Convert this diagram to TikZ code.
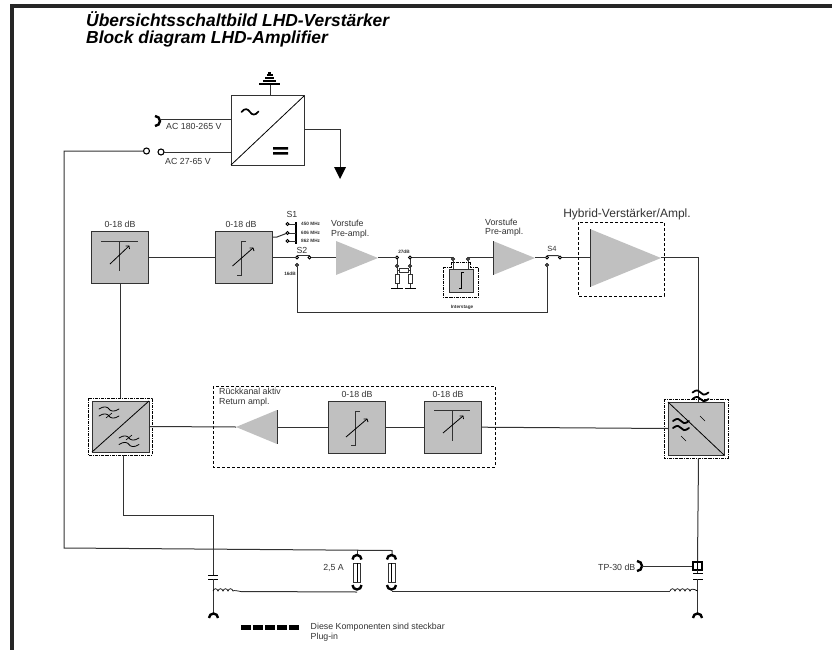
\documentclass[tikz,border=0pt]{standalone}
\usepackage{fontspec}
\setmainfont{Liberation Sans}
\usetikzlibrary{arrows.meta}
\definecolor{blockgrey}{RGB}{192,192,192}
\definecolor{inkc}{RGB}{50,50,50}
\tikzset{
  wire/.style={draw=inkc,line width=1pt},
  thinw/.style={draw=black,line width=0.8pt},
  block/.style={draw=inkc,fill=blockgrey,line width=0.9pt,minimum width=57pt,minimum height=52pt,inner sep=0pt,outer sep=0pt},
  psubox/.style={draw=inkc,fill=white,line width=1pt,minimum width=73pt,minimum height=69pt,inner sep=0pt,outer sep=0pt},
  amp/.style={draw=none,fill=blockgrey},
  lab/.style={inner sep=0pt,text=inkc,font=\fontsize{8.8}{10}\selectfont},
  tinylab/.style={inner sep=0pt,text=inkc,font=\fontsize{4.7}{5}\selectfont\bfseries},
  titlelab/.style={anchor=base west,inner sep=0pt,font=\fontsize{17.4}{19}\selectfont\bfseries\itshape},
  contact/.style={circle,draw=black,fill=white,line width=0.9pt,minimum size=3pt,inner sep=0pt,outer sep=0pt},
  bigcontact/.style={circle,draw=black,fill=white,line width=1.1pt,minimum size=6pt,inner sep=0pt,outer sep=0pt},
  plugbox/.style={draw=black,line width=0.8pt,densely dashdotted},
  retbox/.style={draw=black,line width=0.8pt,densely dashed},
  socket/.style={draw=black,line width=2.4pt},
  fuse/.style={draw=inkc,fill=white,line width=0.7pt,minimum width=7pt,minimum height=19pt,inner sep=0pt},
  res/.style={draw=inkc,fill=white,line width=0.6pt,inner sep=0pt},
  wave/.pic={\draw[line width=\pgfkeysvalueof{/tikz/wavew},line cap=round] (-8,0) .. controls (-4,-3.5) and (-1,-2) .. (0,0) .. controls (1,2) and (4,3.5) .. (8,0);},
  wavew/.initial=0.8pt,
}
\begin{document}
\begin{tikzpicture}[x=1pt,y=-1pt]
\useasboundingbox (0,0) rectangle (832,650);
% frame
\fill[black!85] (10,4.5) rectangle (832,8);
\fill[black!85] (10,4.5) rectangle (14,650);
% title
\node[titlelab] (t1) at (86,27) {Übersichtsschaltbild LHD-Verstärker};
\node[titlelab] (t2) at (86,43.5) {Block diagram LHD-Amplifier};
% PSU
\node[psubox] (psu) at (267.5,130.5) {};
\draw[thinw] (psu.south west) -- (psu.north east);
\draw[line width=1.7pt,line cap=round] (241.5,112) .. controls (245,107.5) and (248,109) .. (250,112) .. controls (252,115) and (255,116) .. (258.5,111.5);
\fill[black] (273,147) rectangle (288,149.5) (273,152) rectangle (288,154.5);
\coordinate (gnd) at (270,85);
\draw[wire] (gnd) -- (270,96);
\fill[black] (259,83) rectangle (280,85.5);
\fill[black] (263,80) rectangle (276,82);
\fill[black] (265,77) rectangle (274,79);
\fill[black] (266.5,74.5) rectangle (272.5,76);
\fill[black] (268,72.5) rectangle (271,74);
% AC inputs
\draw[socket] (155,116) arc (-90:90:5);
\draw[wire] (160,120) -- (231,120);
\node[lab,anchor=west] (ac1) at (166,126) {AC 180-265 V};
\node[lab,anchor=west] (ac2) at (165,161) {AC 27-65 V};
\node[bigcontact] (c1) at (146.5,151) {};
\node[bigcontact] (c2) at (161,152) {};
\draw[wire] (c2) -- (231,152);
% output arrow
\draw[wire] (304,130) -- (340,130) -- (340,168);
\fill[black] (334,167) -- (346,167) -- (340,179) -- cycle;
% long mains line
\draw[wire] (c1) -- (64,151) -- (64,548) -- (392,550.5) -- (392,554);
\draw[wire] (357,549.5) -- (357,554);
% forward row
\node[block] (att1) at (120,257.5) {};
\node[block] (att2) at (243.5,257.5) {};
\node[lab] (db1) at (120,224) {0-18 dB};
\node[lab] (db2) at (241,224) {0-18 dB};
\draw[wire] (att1) -- (att2);
\draw[line width=1pt,draw=inkc] (101,241) -- (137.5,241);
\draw[line width=1pt,draw=inkc] (119.5,241) -- (119.5,271);
\draw[line width=0.8pt] (110,264) -- (129,246);
\draw[line width=0.8pt] (125.5,246) -- (129,246) -- (129.5,249);
\draw[line width=1pt,draw=inkc] (246,241.5) -- (241.5,241.5) -- (241.5,275) -- (237,275);
\draw[line width=0.8pt] (232.5,266) -- (253,248);
\draw[line width=0.8pt] (249.5,248) -- (253,248) -- (254,251);
% S1
\node[lab] (s1) at (292,214) {S1};
\draw[line width=1.4pt] (296,222) -- (296,244);
\node[contact] (a1) at (287.5,224) {};
\node[contact] (a2) at (287.5,233) {};
\node[contact] (a3) at (287.5,241) {};
\draw[wire] (a1) -- (296,224) (a2) -- (296,233) (a3) -- (296,241);
\node[tinylab,anchor=west] (f1) at (301,224) {450 MHz};
\node[tinylab,anchor=west] (f2) at (301,233) {606 MHz};
\node[tinylab,anchor=west] (f3) at (301,241) {862 MHz};
\draw[wire] (272,237) -- (277,237) -- (a2);
% S2
\node[lab] (s2) at (302,250) {S2};
\node[contact] (b1) at (297,257.5) {};
\node[contact] (b2) at (309.5,257.5) {};
\node[contact] (b3) at (297,265) {};
\draw[wire] (272,257.5) -- (b1);
\draw[wire] (297,255.5) -- (309.5,255.5);
\node[tinylab] (db16) at (290,274) {16dB};
% preamp 1
\fill[amp] (336,241) -- (378,258) -- (336,275) -- cycle;
\coordinate (p1in) at (336,257.5);
\coordinate (p1out) at (378,257.5);
\draw[wire] (b2) -- (p1in);
\node[lab,anchor=west,align=left] (v1) at (331,229) {Vorstufe\\Pre-ampl.};
% pad
\node[tinylab] (db27) at (404,252) {27dB};
\node[contact] (d1) at (397,257.5) {};
\node[contact] (d2) at (410,257.5) {};
\node[contact] (d3) at (397,266) {};
\node[contact] (d4) at (410,266) {};
\draw[wire] (p1out) -- (d1);
\draw[wire] (d1) -- (d3) (d2) -- (d4);
\draw[wire] (397,266) -- (397,288) (410,266) -- (410,288);
\node[res,minimum width=9pt,minimum height=4pt] (r1) at (403.5,270.5) {};
\draw[wire] (397,270.5) -- (r1) -- (410,270.5);
\node[res,minimum width=4pt,minimum height=9pt] (r2) at (397,279) {};
\node[res,minimum width=4pt,minimum height=9pt] (r3) at (410,279) {};
\draw[line width=1.1pt] (391,288.5) -- (403,288.5) (405,288.5) -- (416,288.5);
% interstage
\node[contact] (e1) at (453,259) {};
\node[contact] (e2) at (468,259) {};
\draw[wire] (d2) -- (453,257.5);
\draw[wire] (468,257.5) -- (493,257.5);
\node[block,minimum width=24pt,minimum height=23pt] (ist) at (461,280.5) {};
\draw[wire] (e1) -- (453,269) (e2) -- (468,269);
\draw[plugbox] (443,267) -- (451,267) -- (451,262.5) -- (470,262.5) -- (470,267) -- (478,267) -- (478,297) -- (443,297) -- cycle;
\draw[line width=0.9pt] (464,272) -- (461.5,272) -- (461.5,288) -- (459,288);
\node[tinylab] (istl) at (462,307) {Interstage};
% preamp 2
\fill[amp] (493,241) -- (535,258) -- (493,275) -- cycle;
\draw[wire] (493,241) -- (493,275);
\node[lab,anchor=west,align=left,font=\fontsize{8.8}{9.5}\selectfont] (v2) at (485,227.5) {Vorstufe\\Pre-ampl.};
% S4
\node[lab,font=\fontsize{7.5}{8}\selectfont] (s4) at (552,249) {S4};
\node[contact] (g1) at (547,257.5) {};
\node[contact] (g2) at (560,257.5) {};
\node[contact] (g3) at (547,265) {};
\draw[wire] (535,257.5) -- (g1);
\draw[wire] (547,255.5) -- (558,255.5) -- (g2);
\draw[wire] (g3) -- (547,312) -- (297,312) -- (b3);
% hybrid
\fill[amp] (590,229) -- (661,258) -- (590,287) -- cycle;
\draw[wire] (590,229) -- (590,287);
\draw[wire] (g2) -- (590,257.5);
\draw[retbox] (578,222) rectangle (664,296);
\node[inner sep=0pt,text=inkc,font=\fontsize{12}{14}\selectfont] (hyb) at (627,214) {Hybrid-Verstärker/Ampl.};
% right diplexer
\node[block,minimum width=56pt,minimum height=53pt] (dpR) at (696,428.5) {};
\draw[plugbox] (664,399) rectangle (728,458);
\draw[thinw] (dpR.north west) -- (dpR.south east);
\draw[wire] (661,257.5) -- (698.5,257.5) -- (698.5,402);
\pic[wavew=1.8pt] at (700.5,392.5) {wave};
\pic[wavew=1.8pt] at (700.5,399) {wave};
\pic[wavew=1.8pt] at (681,421) {wave};
\pic[wavew=1.8pt] at (681,428) {wave};
\draw[line width=0.6pt] (700,416) -- (705,421) (681,436) -- (686,441);
% left diplexer
\node[block,minimum width=57pt,minimum height=51pt] (dpL) at (120.5,426.5) {};
\draw[plugbox] (88,398) rectangle (152,455);
\draw[thinw] (dpL.south west) -- (dpL.north east);
\draw[wire] (att1.south) -- (120,398);
\pic[xscale=1.25] at (109,409) {wave};
\pic[xscale=1.25] at (109,416) {wave};
\pic[xscale=1.25] at (129,438) {wave};
\pic[xscale=1.25] at (129,444.5) {wave};
\draw[line width=0.6pt] (106,418) -- (112,413) (126,440) -- (132,435);
% return row
\draw[retbox] (213,386) rectangle (495,467);
\node[lab,anchor=west,align=left,font=\fontsize{8.8}{10}\selectfont] (rk) at (219,397.5) {Rückkanal aktiv\\Return ampl.};
\node[block] (att3) at (356.5,427) {};
\node[block] (att4) at (452.5,427) {};
\node[lab] (db3) at (357,394) {0-18 dB};
\node[lab] (db4) at (448,394) {0-18 dB};
\fill[amp] (277,410) -- (236,427) -- (277,444) -- cycle;
\draw[wire] (277,410) -- (277,444);
\draw[wire] (dpL.east) -- (236,427);
\draw[wire] (277,427) -- (att3);
\draw[wire] (att3) -- (att4);
\draw[wire] (att4) -- (dpR.west);
\draw[line width=1pt,draw=inkc] (360,411) -- (355.5,411) -- (355.5,445) -- (351,445);
\draw[line width=0.8pt] (346,437) -- (367,419);
\draw[line width=0.8pt] (363.5,419) -- (367,419) -- (368,422);
\draw[line width=1pt,draw=inkc] (434,410) -- (470,410);
\draw[line width=1pt,draw=inkc] (452,410) -- (452,441);
\draw[line width=0.8pt] (443,433) -- (463,416);
\draw[line width=0.8pt] (459.5,416) -- (463,416) -- (463.5,419);
% bottom left network
\draw[wire] (123,455) -- (123,515) -- (213,515) -- (213,575);
\draw[line width=0.9pt] (208,575) -- (218,575) (208,579) -- (218,579);
\draw[wire] (213,579) -- (213,613);
\draw[socket] (209,618) arc (180:360:4.5);
\draw[line width=0.7pt] (213,591) .. controls (214,588) and (217,588) .. (218,591) .. controls (219,588) and (222,588) .. (223,591) .. controls (224,588) and (227,588) .. (228,591) .. controls (229,588) and (232,588) .. (233,591) .. controls (234,590) and (238,591) .. (241,591.5);
\draw[wire] (241,591.5) -- (357,592);
% fuses
\node[fuse] (fa) at (357,572.5) {};
\node[fuse] (fb) at (391.5,572.5) {};
\draw[line width=0.6pt] (357,563) -- (357,582) (391.5,563) -- (391.5,582);
\node[lab,anchor=east] (amp25) at (344,568) {2,5 A};
\draw[socket] (352.5,559.5) arc (180:360:4.5);
\draw[socket] (387,559.5) arc (180:360:4.5);
\draw[socket] (352.5,585) arc (180:0:4.5);
\draw[socket] (387,585) arc (180:0:4.5);
\draw[wire] (391.5,591) -- (670,591);
% right network
\draw[wire] (698.5,458) -- (697.5,562);
\node[draw=black,line width=1.1pt,minimum width=9pt,minimum height=8pt,inner sep=0pt] (tp) at (697.5,566) {};
\draw[line width=0.6pt] (697.5,562) -- (697.5,570);
\draw[socket] (637,561) arc (-90:90:5);
\draw[wire] (642,566) -- (tp);
\node[lab,anchor=east] (tpl) at (635.5,567) {TP-30 dB};
\draw[line width=0.9pt] (693,573) -- (702.5,573) (693,579) -- (702.5,579);
\draw[wire] (697.5,570) -- (697.5,573) (697.5,579) -- (697.5,613);
\draw[socket] (693,618) arc (180:360:4.5);
\draw[line width=0.7pt] (670,591) .. controls (671,588) and (674,588) .. (675,591) .. controls (676,588) and (679,588) .. (680,591) .. controls (681,588) and (684,588) .. (685,591) .. controls (686,588) and (689,588) .. (690,591) .. controls (691,588) and (694,589) .. (697.5,591);
% legend
\draw[line width=4.5pt,dash pattern=on 9.5pt off 2.6pt] (241,627.5) -- (299,627.5);
\node[lab,anchor=west] (leg1) at (310.5,627) {Diese Komponenten sind steckbar};
\node[lab,anchor=west] (leg2) at (310.5,637) {Plug-in};
\end{tikzpicture}
\end{document}
